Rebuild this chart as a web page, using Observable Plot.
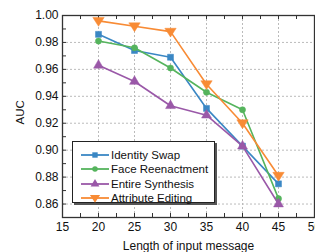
<!DOCTYPE html>
<html>
<head>
<meta charset="utf-8">
<script src="https://cdn.jsdelivr.net/npm/d3@7"></script>
<script src="https://cdn.jsdelivr.net/npm/@observablehq/plot@0.6"></script>
<style>
  body { margin: 0; background: #fff; }
  #wrap { position: relative; width: 315px; height: 252px; font-family: "Liberation Sans", Arial, sans-serif; }
  #legend { position: absolute; left: 72px; top: 141px; width: 141px; height: 60px; border: 1px solid #222; background: #fff; box-shadow: 2px 2px 0 #555; }
  .row { position: absolute; left: 0; height: 14px; display: flex; align-items: center; font-size: 11.5px; color: #111; white-space: nowrap; }
  .row svg { margin-left: 8px; margin-right: 2px; }
</style>
</head>
<body>
<div id="wrap"></div>
<script>
const lengths = [20, 25, 30, 35, 40, 45];
const seriesNames = ["Identity Swap", "Face Reenactment", "Entire Synthesis", "Attribute Editing"];
const identitySwap     = [0.986, 0.974, 0.969, 0.931, 0.903, 0.875];
const faceReenactment  = [0.981, 0.976, 0.961, 0.943, 0.930, 0.864];
const entireSynthesis  = [0.963, 0.951, 0.933, 0.926, 0.903, 0.860];
const attributeEditing = [0.996, 0.992, 0.988, 0.949, 0.920, 0.881];
const colors = ["#3a87c4", "#55b45d", "#9a58a8", "#f88b35"];
const xTicks = [15, 20, 25, 30, 35, 40, 45, 50];
const xMinor = [17.5, 22.5, 27.5, 32.5, 37.5, 42.5, 47.5];
const yTicks = [0.86, 0.88, 0.90, 0.92, 0.94, 0.96, 0.98, 1.00];
const yMinor = [0.85, 0.87, 0.89, 0.91, 0.93, 0.95, 0.97, 0.99];

const triDown = {draw(ctx, size) {
  const r = Math.sqrt(size / 1.3);
  ctx.moveTo(-r, -r * 0.6); ctx.lineTo(r, -r * 0.6); ctx.lineTo(0, r * 0.95); ctx.closePath();
}};
const symbols = [d3.symbolSquare, d3.symbolCircle, d3.symbolTriangle, triDown];
const sizes = [36, 30, 42, 42];

const allVals = [identitySwap, faceReenactment, entireSynthesis, attributeEditing];
const data = [];
allVals.forEach((vals, s) => vals.forEach((v, i) => data.push({series: seriesNames[s], x: lengths[i], y: v, s})));

const W = 315, H = 252, mt = 15, mb = 35, ml = 62, mr = 1;
const ph = H - mt - mb, pw = W - ml - mr;

const marks = [
  Plot.gridX(xTicks.slice(1, -1), {stroke: "#bbb", strokeOpacity: 1, strokeDasharray: "2,2"}),
  Plot.gridY(yTicks.slice(0, -1), {stroke: "#bbb", strokeOpacity: 1, strokeDasharray: "2,2"}),
  Plot.ruleX(xTicks.concat(xMinor), {x: d => d, insetTop: ph - 4, stroke: "#333"}),
  Plot.ruleX(xTicks.concat(xMinor), {x: d => d, insetBottom: ph - 4, stroke: "#333"}),
  Plot.ruleY(yTicks.concat(yMinor), {y: d => d, insetRight: pw - 4, stroke: "#333"}),
  Plot.axisX(xTicks, {tickSize: 0, tickPadding: 5, fontSize: 12, color: "#111", label: "Length of input message", labelAnchor: "center", labelOffset: 32, labelArrow: "none"}),
  Plot.axisY(yTicks, {tickSize: 0, tickPadding: 4, fontSize: 12, color: "#111", tickFormat: d3.format(".2f"), label: null}),
  Plot.text(["AUC"], {frameAnchor: "left", dx: -42, dy: 8, rotate: -90, fontSize: 11.5, fill: "#111"}),
];
seriesNames.forEach((name, s) => {
  const d = data.filter(r => r.s === s);
  marks.push(Plot.line(d, {x: "x", y: "y", stroke: colors[s], strokeWidth: 1.6}));
  marks.push(Plot.dot(d, {x: "x", y: "y", fill: colors[s], stroke: colors[s], strokeWidth: 0.5, symbol: () => symbols[s], r: Math.sqrt(sizes[s] / Math.PI)}));
});
marks.push(Plot.frame({stroke: "#333", strokeWidth: 1.3}));

const chart = Plot.plot({
  width: W, height: H,
  marginTop: mt, marginBottom: mb, marginLeft: ml, marginRight: mr,
  style: {fontFamily: "'Liberation Sans', Arial, sans-serif", fontSize: "11.5px", color: "#111", background: "#fff"},
  x: {domain: [15, 50]},
  y: {domain: [0.85, 1.0]},
  symbol: {type: "identity"},
  marks
});
const wrap = document.getElementById("wrap");
wrap.appendChild(chart);

const legend = document.createElement("div");
legend.id = "legend";
seriesNames.forEach((name, s) => {
  const row = document.createElement("div");
  row.className = "row";
  row.style.top = (6 + s * 14.3) + "px";
  const svg = d3.create("svg").attr("width", 28).attr("height", 12);
  svg.append("line").attr("x1", 0).attr("x2", 28).attr("y1", 6).attr("y2", 6).attr("stroke", colors[s]).attr("stroke-width", 1.8);
  svg.append("path").attr("d", d3.symbol(symbols[s], sizes[s] * 0.8)()).attr("transform", "translate(14,6)").attr("fill", colors[s]);
  row.appendChild(svg.node());
  const t = document.createElement("span");
  t.textContent = name;
  row.appendChild(t);
  legend.appendChild(row);
});
wrap.appendChild(legend);
</script>
</body>
</html>
